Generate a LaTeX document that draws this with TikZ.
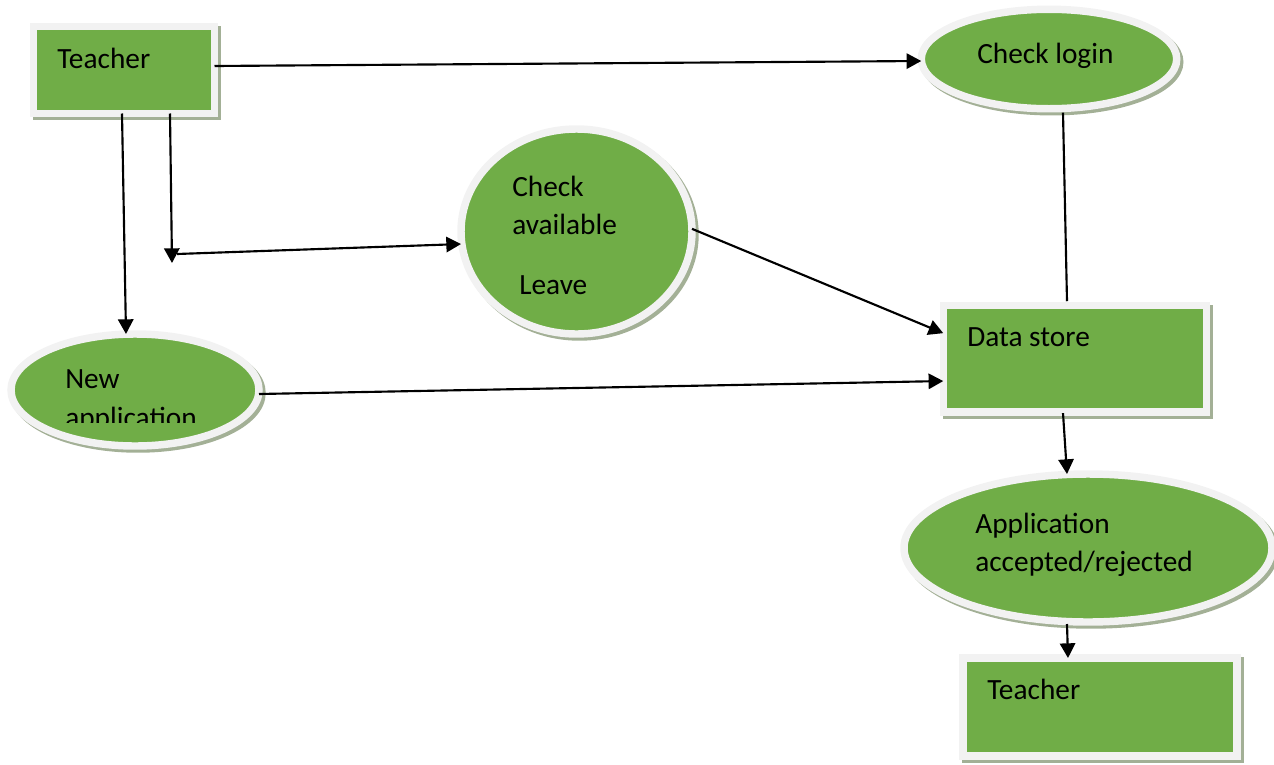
\documentclass[tikz,border=0pt]{standalone}
\usepackage{fontspec}
\setmainfont{Carlito}
\usetikzlibrary{shapes.geometric, shadows, arrows.meta}
\definecolor{boxgreen}{RGB}{112,173,71}
\definecolor{ringgrey}{RGB}{242,242,242}
\definecolor{shadowgrey}{RGB}{163,176,150}

\begin{document}
\begin{tikzpicture}[x=0.75pt, y=-0.75pt,
  every node/.style={font=\fontsize{22}{28}\selectfont},
  entity/.style={rectangle, fill=boxgreen, draw=ringgrey, line width=5.6pt,
    inner sep=0pt, outer sep=0pt,
    drop shadow={shadow xshift=2.25pt, shadow yshift=-2.25pt, opacity=1,
      fill=shadowgrey, draw=shadowgrey, line width=5.6pt}},
  process/.style={entity, ellipse},
  txt/.style={anchor=base west, inner sep=0pt},
  flow/.style={line width=1.6pt, -{Triangle[length=11pt, width=11.5pt]}}
]
\useasboundingbox (0,0) rectangle (1274,764);

% shapes
\node[entity, minimum width=135.75pt, minimum height=65.25pt] (teacherA) at (124,70) {};
\node[process, minimum width=191.6pt, minimum height=74.6pt] (checkLogin) at (1049,59) {};
\node[process, minimum width=173.25pt, minimum height=153.75pt] (checkLeave) at (576.5,231.5) {};
\node[process, minimum width=186pt, minimum height=84pt] (newApp) at (135,390) {};
\node[entity, minimum width=197.6pt, minimum height=79.9pt] (dataStore) at (1075,358.5) {};
\node[process, minimum width=276pt, minimum height=111pt] (appResult) at (1088,548) {};
\node[entity, minimum width=205.5pt, minimum height=73.5pt] (teacherB) at (1100,707) {};

% texts
\node[txt] (teacherA text) at (57,68) {Teacher};
\node[txt] (checkLogin text) at (977,63) {Check login};
\node[txt] (checkLeave text1) at (512,196) {Check};
\node[txt] (checkLeave text2) at (512,234) {available};
\node[txt] (checkLeave text3) at (519,294) {Leave};
\node[txt] (newApp text1) at (65,388) {New};
\begin{scope}
\clip (40,400) rectangle (250,422);
\node[txt] (newApp text2) at (65,427) {application};
\end{scope}
\node[txt] (dataStore text) at (967,346) {Data store};
\node[txt] (appResult text1) at (975,533) {Application};
\node[txt] (appResult text2) at (975,571) {accepted/rejected};
\node[txt] (teacherB text) at (987,699) {Teacher};

% connectors
\coordinate (dropEnd) at (172,263);
\coordinate (branch) at (177,254);

\draw[flow] ([yshift=3pt]teacherA.east) -- ([yshift=-1.5pt]checkLogin.west);
\draw[flow] ([xshift=-1.5pt]teacherA.south) -- ([xshift=-6.75pt]newApp.north);
\draw[flow] ([xshift=34.5pt]teacherA.south) -- (dropEnd);
\draw[flow] (branch) -- ([yshift=-9.4pt]checkLeave.west);
\draw[flow] ([yshift=2pt]checkLeave.east) -- ([yshift=19pt]dataStore.west);
\draw[flow] ([yshift=-3pt]newApp.east) -- ([yshift=-16.9pt]dataStore.west);
\draw[line width=1.6pt] ([xshift=10.5pt, yshift=-3pt]checkLogin.south) -- ([xshift=-6pt, yshift=3pt]dataStore.north);
\draw[flow] ([xshift=-9pt, yshift=-1pt]dataStore.south) -- ([xshift=-15.75pt]appResult.north);
\draw[flow] ([xshift=-15.75pt, yshift=-1.5pt]appResult.south) -- ([xshift=-24pt]teacherB.north);

\end{tikzpicture}
\end{document}
